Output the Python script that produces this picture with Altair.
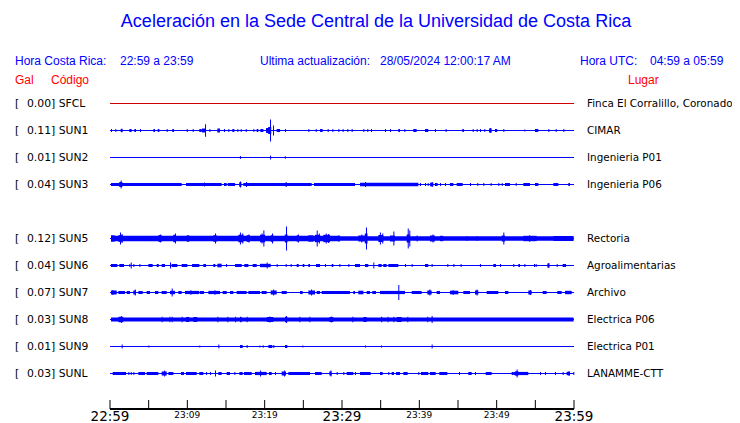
import altair as alt
import pandas as pd

# ---------------- data ----------------
stations = ["SFCL", "SUN1", "SUN2", "SUN3", "SUN5", "SUN6", "SUN7", "SUN8", "SUN9", "SUNL"]
rows = [0, 1, 2, 3, 5, 6, 7, 8, 9, 10]
gal = ["0.00", "0.11", "0.01", "0.04", "0.12", "0.04", "0.07", "0.03", "0.01", "0.03"]
places = ["Finca El Corralillo, Coronado", "CIMAR", "Ingenieria P01", "Ingenieria P06",
          "Rectoria", "Agroalimentarias", "Archivo", "Electrica P06", "Electrica P01",
          "LANAMME-CTT"]

# minutes after 22:59
tick_minutes = [0, 5, 10, 15, 20, 25, 30, 35, 40, 45, 50, 55, 60]
major_minutes = [0, 30, 60]
major_labels = ["22:59", "23:29", "23:59"]
minor_minutes = [10, 20, 40, 50]
minor_labels = ["23:09", "23:19", "23:39", "23:49"]

# trace envelopes: (start minute, end minute, half amplitude)
bursts = {
    "SFCL": [],
    "SUN1": [(0.13, 0.13, 1.5), (0.69, 0.69, 1.5), (1.38, 1.64, 1.7), (2.5, 2.8, 1.5), (3.15, 3.36, 1.5),
             (3.88, 3.88, 1.5), (5.61, 5.82, 1.5), (6.17, 6.38, 1.5), (7.33, 7.33, 1.5), (8.06, 8.28, 1.5),
             (9.92, 9.92, 1.5), (10.69, 10.69, 1.5), (11.55, 11.86, 1.5), (11.9, 12.4, 2.0), (12.29, 12.29, 6.3),
             (12.85, 12.85, 1.5), (13.88, 14.23, 2.0), (14.74, 14.74, 1.5), (15.3, 15.3, 1.5), (15.82, 16.08, 1.5),
             (16.47, 16.47, 1.5), (16.9, 17.03, 1.5), (17.55, 17.55, 1.5), (18.54, 18.54, 1.5), (18.97, 19.18, 1.5),
             (19.44, 19.83, 1.5), (20.18, 20.61, 2.5), (20.45, 20.85, 3.5), (20.69, 20.69, 11.0), (21.08, 21.08, 5.0),
             (21.55, 21.99, 1.5), (22.63, 22.63, 1.5), (25.65, 25.65, 1.5), (26.6, 26.6, 1.5), (27.16, 27.5, 1.5),
             (28.15, 28.15, 1.5), (28.75, 28.75, 1.5), (29.53, 29.53, 1.5), (30.08, 30.08, 1.5), (30.69, 30.69, 1.5),
             (31.25, 31.25, 1.5), (32.76, 32.76, 1.5), (33.27, 33.27, 1.5), (33.75, 33.75, 1.5), (35.56, 35.56, 1.5),
             (36.21, 36.21, 1.5), (37.28, 37.5, 1.5), (38.06, 38.06, 1.5), (39.22, 39.65, 1.5), (40.73, 41.16, 1.5),
             (42.02, 42.02, 1.5), (43.4, 43.4, 1.5), (45.56, 45.77, 1.5), (46.9, 46.9, 1.5), (47.41, 47.41, 1.5),
             (47.84, 47.84, 1.5), (48.4, 48.4, 1.5), (49.01, 49.35, 2.0), (49.15, 49.15, 2.5), (49.78, 50.08, 1.5),
             (50.86, 50.86, 1.5), (53.58, 53.58, 1.0), (54.96, 55.39, 1.5), (56.68, 56.68, 1.5), (57.63, 57.63, 1.5),
             (58.62, 58.62, 1.5)],
    "SUN2": [(16.8, 16.8, 1.5), (20.7, 20.7, 2.0), (22.6, 22.6, 1.2)],
    "SUN3": [(0.13, 9.27, 1.5), (9.83, 14.44, 1.5), (14.74, 15.09, 1.5), (15.22, 16.17, 1.5), (17.24, 26.08, 1.5),
             (26.38, 29.74, 1.5), (29.74, 31.68, 1.5), (32.33, 39.87, 1.7), (1.38, 1.38, 4.0), (1.2, 1.6, 2.5),
             (12.16, 12.16, 2.0), (16.81, 16.81, 3.0), (16.7, 17.0, 2.2), (17.59, 17.59, 2.5), (22.72, 22.72, 2.5),
             (32.97, 32.97, 2.5), (40.08, 40.08, 1.5), (40.73, 40.73, 1.5), (41.08, 41.08, 1.5), (41.38, 41.81, 1.8),
             (41.6, 41.6, 2.5), (42.02, 42.37, 1.5), (42.67, 42.67, 1.5), (43.32, 43.32, 1.5), (43.96, 44.4, 1.5),
             (44.83, 45.6, 1.5), (46.55, 46.55, 1.5), (47.5, 47.5, 1.5), (48.27, 48.27, 1.5), (49.22, 49.22, 1.5),
             (50.21, 50.21, 1.5), (50.65, 50.65, 1.5), (51.08, 51.72, 1.5), (52.46, 52.46, 1.5), (53.45, 54.31, 1.5),
             (54.96, 55.39, 1.5), (57.33, 57.97, 1.5), (59.27, 59.48, 1.5)],
    "SUN5": [(0.13, 29.74, 2.7), (29.74, 59.95, 2.2), (0.13, 0.6, 3.2), (1.08, 1.64, 3.3), (1.29, 1.29, 6.0),
             (1.5, 1.5, 4.5), (6.25, 6.68, 3.3), (6.45, 6.45, 4.0), (8.19, 8.54, 3.7), (8.4, 8.4, 5.0),
             (9.92, 10.26, 3.2), (13.36, 13.79, 3.3), (13.58, 13.58, 5.0), (16.6, 17.24, 3.8), (16.8, 16.8, 6.0),
             (17.1, 17.1, 5.0), (17.67, 18.1, 3.3), (17.9, 17.9, 4.0), (19.4, 20.05, 3.8), (19.6, 19.6, 5.0),
             (19.83, 19.83, 8.0), (20.78, 21.12, 3.3), (20.95, 20.95, 5.0), (22.76, 22.76, 12.0), (22.6, 22.95, 4.0),
             (24.14, 24.44, 3.2), (24.3, 24.3, 4.0), (25.65, 26.3, 3.2), (26.51, 27.16, 3.7), (26.73, 26.73, 8.0),
             (27.0, 27.0, 5.0), (27.59, 28.45, 3.7), (27.9, 27.9, 5.0), (28.2, 28.2, 4.5), (29.53, 29.53, 3.2),
             (32.11, 32.97, 3.0), (32.5, 32.5, 4.0), (33.1, 33.1, 11.0), (32.95, 33.3, 5.0), (34.7, 35.34, 3.5),
             (34.9, 34.9, 6.0), (35.2, 35.2, 5.0), (36.21, 36.85, 3.0), (36.64, 36.64, 7.0), (38.36, 38.79, 4.0),
             (38.5, 38.5, 10.0), (38.7, 38.7, 8.0), (39.65, 39.65, 3.0), (41.38, 42.02, 3.0), (41.7, 41.7, 4.0),
             (42.67, 43.1, 2.7), (46.12, 46.12, 2.5), (47.41, 47.41, 2.5), (50.65, 51.08, 3.0), (50.86, 50.86, 6.0),
             (53.45, 55.17, 2.7), (54.2, 54.2, 3.2), (57.33, 59.91, 2.5)],
    "SUN6": [(0.13, 0.95, 1.5), (1.21, 1.81, 1.5), (2.5, 2.5, 1.5), (2.68, 2.68, 3.0), (3.02, 3.02, 1.5),
             (3.8, 3.8, 1.5), (4.96, 5.52, 1.5), (6.04, 6.3, 1.5), (6.68, 7.11, 1.5), (7.76, 7.76, 3.0),
             (7.98, 8.71, 1.5), (9.27, 10.0, 1.5), (10.61, 11.55, 1.5), (12.07, 12.42, 1.5), (13.36, 13.62, 1.5),
             (13.88, 14.44, 1.8), (15.0, 15.0, 1.5), (16.17, 17.03, 1.5), (17.37, 17.89, 1.5), (18.45, 18.97, 1.5),
             (19.4, 20.78, 1.7), (20.26, 20.26, 3.0), (21.55, 21.55, 1.5), (22.72, 22.72, 1.5), (23.36, 23.36, 1.5),
             (24.14, 24.4, 1.5), (24.92, 25.13, 1.5), (25.65, 25.87, 1.5), (26.64, 27.16, 1.5), (27.8, 27.8, 1.5),
             (28.67, 28.88, 1.5), (29.66, 29.66, 1.5), (30.82, 30.82, 1.5), (31.68, 32.33, 1.5), (32.97, 33.4, 1.5),
             (34.05, 34.05, 3.0), (34.7, 35.13, 1.5), (35.34, 35.77, 1.5), (35.99, 37.28, 1.5), (38.15, 38.15, 1.5),
             (39.01, 39.01, 1.5), (40.73, 41.16, 1.5), (41.59, 41.59, 1.5), (43.62, 43.62, 1.5), (44.4, 44.4, 1.5),
             (45.34, 45.34, 1.5), (47.84, 47.84, 1.5), (49.57, 49.91, 1.5), (50.43, 50.43, 1.5), (52.15, 52.15, 1.5),
             (52.8, 53.02, 1.5), (53.58, 53.58, 1.5), (54.83, 54.83, 1.5), (55.04, 55.04, 1.5), (56.55, 56.81, 2.0),
             (56.68, 56.68, 2.5), (57.76, 57.76, 1.5), (58.53, 58.97, 1.5)],
    "SUN7": [(0.13, 0.87, 2.0), (0.3, 0.3, 2.5), (1.08, 1.94, 1.5), (2.16, 2.59, 1.5), (3.02, 3.36, 2.0),
             (3.2, 3.2, 3.0), (3.67, 4.23, 1.5), (4.74, 5.17, 1.5), (5.82, 6.25, 1.5), (6.68, 7.33, 1.5),
             (7.76, 8.41, 1.7), (7.98, 7.98, 4.0), (8.84, 9.27, 1.5), (9.7, 11.55, 1.6), (10.4, 10.4, 2.2),
             (11.64, 12.16, 1.5), (12.72, 14.23, 1.6), (13.5, 13.5, 2.2), (14.57, 15.09, 1.5), (15.52, 15.95, 1.5),
             (16.38, 17.67, 1.5), (17.89, 19.4, 1.5), (19.61, 20.26, 1.5), (20.78, 21.55, 2.0), (21.1, 21.1, 3.0),
             (22.2, 22.85, 1.5), (24.57, 24.92, 1.5), (25.65, 26.51, 2.0), (26.0, 26.0, 3.0), (26.73, 27.16, 1.5),
             (27.37, 29.74, 1.5), (29.74, 31.03, 1.5), (31.46, 31.68, 1.5), (32.11, 32.76, 1.8), (33.19, 33.62, 1.5),
             (33.92, 34.4, 1.5), (34.91, 36.85, 1.6), (36.85, 38.15, 1.6), (37.28, 37.28, 7.5), (39.01, 40.3, 1.5),
             (41.03, 41.59, 2.0), (41.3, 41.3, 3.0), (42.24, 42.67, 1.5), (43.96, 45.04, 1.8), (44.3, 44.3, 2.5),
             (45.69, 46.55, 1.5), (47.2, 47.63, 2.0), (47.4, 47.4, 3.0), (48.71, 50.21, 1.5), (51.08, 51.51, 1.5),
             (54.09, 54.53, 2.0), (54.3, 54.3, 2.5), (55.95, 56.46, 1.5), (57.84, 58.4, 1.5), (58.84, 59.7, 1.7)],
    "SUN8": [(0.13, 59.95, 1.9), (1.08, 1.72, 2.7), (1.4, 1.4, 3.5), (6.68, 6.68, 2.7), (7.68, 7.68, 2.7),
             (7.98, 7.98, 2.7), (9.27, 9.27, 2.7), (9.83, 10.26, 2.5), (10.78, 11.29, 2.5), (13.88, 13.88, 2.7),
             (15.17, 15.17, 2.7), (16.17, 16.17, 2.7), (16.81, 17.03, 2.7), (17.67, 17.67, 2.7), (20.26, 21.12, 2.5),
             (20.6, 20.6, 3.0), (22.63, 22.93, 2.7), (22.75, 22.75, 3.5), (24.48, 24.48, 2.7), (25.78, 25.78, 2.7),
             (28.36, 28.88, 2.5), (28.6, 28.6, 3.0), (31.33, 31.33, 2.7), (32.76, 33.19, 2.5), (35.04, 35.21, 2.7),
             (35.9, 35.9, 2.7), (36.64, 36.64, 2.7), (37.07, 37.71, 2.5), (38.45, 38.45, 2.7), (41.03, 41.03, 2.7),
             (41.59, 41.59, 3.5)],
    "SUN9": [(1.51, 1.51, 2.0), (4.96, 4.96, 1.0), (11.55, 11.55, 1.0), (14.01, 14.01, 2.0), (16.81, 17.16, 1.5),
             (17.67, 17.67, 1.5), (19.31, 19.31, 1.0), (19.74, 19.74, 1.2), (20.48, 20.99, 1.5), (21.12, 21.12, 1.5),
             (22.63, 22.93, 1.5), (24.87, 24.87, 1.0), (32.97, 32.97, 1.0), (35.04, 35.04, 1.0), (41.59, 41.59, 2.0)],
    "SUNL": [(0.35, 2.07, 1.5), (2.37, 2.37, 1.5), (2.68, 2.68, 1.5), (3.02, 3.02, 1.5), (3.67, 4.53, 1.5),
             (4.74, 6.25, 1.5), (6.68, 7.33, 2.0), (7.0, 7.0, 3.0), (7.55, 8.19, 1.5), (9.18, 9.57, 1.5),
             (9.83, 11.21, 1.5), (11.55, 12.07, 1.5), (12.42, 12.42, 1.5), (12.93, 12.93, 1.5), (13.58, 13.58, 3.0),
             (14.01, 14.44, 1.5), (15.09, 15.52, 1.5), (16.08, 16.08, 1.5), (16.73, 17.16, 1.5), (17.33, 18.32, 1.5),
             (18.75, 20.26, 1.6), (19.4, 19.4, 3.0), (20.56, 20.91, 1.5), (21.34, 21.34, 1.5), (22.2, 22.76, 2.0),
             (22.5, 22.5, 3.0), (23.06, 25.87, 1.5), (26.51, 27.37, 1.5), (28.36, 28.67, 2.0), (28.5, 28.5, 3.0),
             (29.31, 29.31, 1.5), (30.17, 30.17, 1.5), (30.6, 31.46, 1.5), (31.68, 31.68, 1.5), (32.33, 33.71, 1.5),
             (34.91, 35.26, 1.5), (35.99, 35.99, 1.5), (36.42, 36.72, 1.5), (36.98, 37.5, 1.5), (37.93, 38.49, 1.5),
             (39.87, 39.87, 1.5), (40.21, 41.16, 1.5), (41.38, 42.11, 1.5), (42.58, 43.62, 1.5), (45.13, 45.13, 1.5),
             (46.33, 46.77, 1.5), (47.2, 47.2, 1.5), (48.58, 49.35, 1.5), (51.94, 52.15, 1.5), (52.15, 54.09, 1.6),
             (52.4, 52.8, 2.2), (52.58, 52.58, 4.0), (55.6, 55.6, 1.5), (56.25, 56.25, 1.5), (57.54, 57.54, 1.5),
             (58.53, 58.53, 1.5), (59.05, 59.48, 1.7), (59.3, 59.3, 2.5), (59.91, 59.91, 1.5)],
}

# ---------------- tables ----------------
BLUE = "#0000ff"
RED = "#ff0000"
ROW_SPACING = 27.0  # amplitude units per row

st = pd.DataFrame({"station": stations, "row": rows, "gal": gal, "place": places})
st["code_label"] = st["gal"] + "] " + st["station"]
st["t0"] = 0.0
st["t1"] = 60.0
st["color"] = [("#d00000" if s == "SFCL" else BLUE) for s in stations]

recs = []
for s, r in zip(stations, rows):
    for (a, b, amp) in bursts[s]:
        b = max(b, a + 0.13)
        recs.append({"station": s, "t0": a, "t1": b,
                     "lo": r - amp / ROW_SPACING, "hi": r + amp / ROW_SPACING})
bd = pd.DataFrame(recs)

ticks = pd.DataFrame({"t": tick_minutes})
major = pd.DataFrame({"t": major_minutes, "label": major_labels})
minor = pd.DataFrame({"t": minor_minutes, "label": minor_labels})

W, H = 464, 319
xs = alt.Scale(domain=[0, 60], range=[0, W])
ys = alt.Scale(domain=[-13.5 / 27, (H - 13.5) / 27], reverse=True, nice=False, zero=False)

X = lambda f: alt.X(f, type="quantitative", scale=xs, axis=None)
Y = lambda f: alt.Y(f, type="quantitative", scale=ys, axis=None)

base_lines = alt.Chart(st).mark_rule(strokeWidth=1.2).encode(
    x=X("t0"), x2="t1", y=Y("row"), color=alt.Color("color:N", scale=None))

env = alt.Chart(bd).mark_rect(color=BLUE).encode(x=X("t0"), x2="t1", y=Y("lo"), y2="hi")

LBL = dict(baseline="middle", font="DejaVu Sans", fontSize=10.8, color="black")
left_bracket = alt.Chart(st).mark_text(align="left", **LBL).encode(
    y=Y("row"), x=alt.value(15 - 110), text=alt.value("["))
left_text = alt.Chart(st).mark_text(align="left", **LBL).encode(
    y=Y("row"), x=alt.value(27 - 110), text="code_label:N")
right_text = alt.Chart(st).mark_text(align="left", baseline="middle", font="DejaVu Sans",
                                     fontSize=10.4, color="black").encode(
    y=Y("row"), x=alt.value(587 - 110), text="place:N")

axis_line = alt.Chart(ticks).mark_rule(color="black", strokeWidth=1).encode(
    x=alt.value(0), x2=alt.value(W), y=alt.value(H))
tick_marks = alt.Chart(ticks).mark_rule(color="black", strokeWidth=1).encode(
    x=X("t"), y=alt.value(H - 9), y2=alt.value(H))
major_text = alt.Chart(major).mark_text(align="center", baseline="middle", font="DejaVu Sans",
                                        fontSize=13.5, color="black").encode(
    x=X("t"), y=alt.value(H + 8), text="label:N")
minor_text = alt.Chart(minor).mark_text(align="center", baseline="middle", font="DejaVu Sans",
                                        fontSize=9, color="black").encode(
    x=X("t"), y=alt.value(H + 6), text="label:N")

one = pd.DataFrame({"k": [0]})


def label(text, x, y, color, size, align="left"):
    return alt.Chart(one).mark_text(align=align, baseline="middle", font="Liberation Sans",
                                    fontSize=size, color=color).encode(
        x=alt.value(x - 110), y=alt.value(y - 90), text=alt.value(text))


headers = [
    label("Aceleración en la Sede Central de la Universidad de Costa Rica", 376, 21.5, BLUE, 18, "center"),
    label("Hora Costa Rica:", 15, 61, BLUE, 12),
    label("22:59 a 23:59", 120, 61, BLUE, 12),
    label("Ultima actualización:", 260, 61, BLUE, 12),
    label("28/05/2024 12:00:17 AM", 380, 61, BLUE, 12),
    label("Hora UTC:", 580, 61, BLUE, 12),
    label("04:59 a 05:59", 650, 61, BLUE, 12),
    label("Gal", 15, 80, RED, 12),
    label("Código", 51, 80, RED, 12),
    label("Lugar", 628, 80, RED, 12),
]

chart = alt.layer(base_lines, env, left_bracket, left_text, right_text, axis_line, tick_marks,
                  major_text, minor_text, *headers).properties(
    width=W, height=H,
    autosize=alt.AutoSizeParams(type="none"),
    padding={"left": 102, "top": 82, "right": 158, "bottom": 14},
).configure(background="white").configure_view(stroke="transparent", strokeWidth=0)

chart.save("out.html", embed_options={"renderer": "svg", "actions": False})
